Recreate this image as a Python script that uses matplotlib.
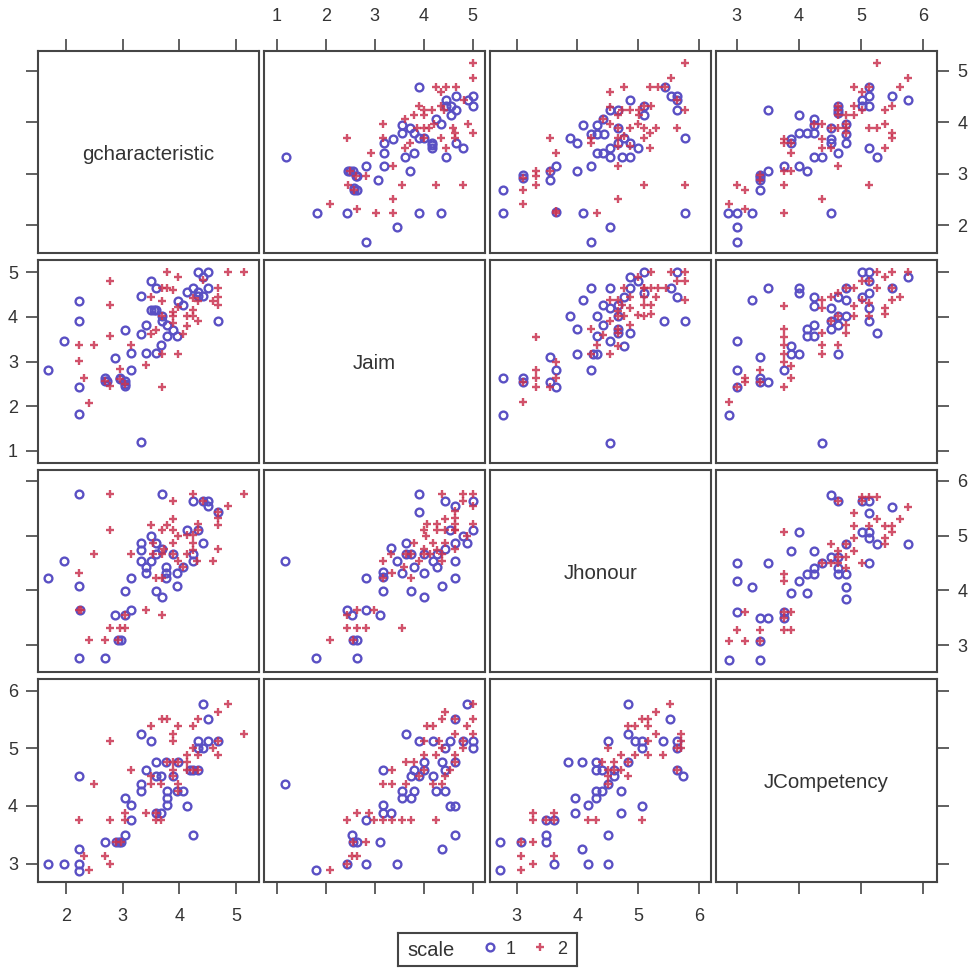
import numpy as np
import matplotlib
matplotlib.use("Agg")
import matplotlib.pyplot as plt

plt.rcParams['font.family'] = ['Liberation Sans', 'DejaVu Sans']

names = ['gcharacteristic', 'Jaim', 'Jhonour', 'JCompetency']
var_ticks = [[2, 3, 4, 5], [1, 2, 3, 4, 5], [3, 4, 5, 6], [3, 4, 5, 6]]
x_limits = [(1.51, 5.40), (0.74, 5.25), (2.56, 6.20), (2.67, 6.22)]
y_limits = [(1.46, 5.38), (0.73, 5.27), (2.51, 6.20), (2.68, 6.20)]

# pairs below are (x var, y var), scale 1 then scale 2
aim_char_1 = [(1.19, 3.32), (1.83, 2.23), (2.44, 2.23), (2.82, 1.68), (3.45, 1.96), (3.91, 2.23), (4.36, 2.23),
              (3.07, 2.87), (2.82, 3.14), (3.18, 3.14), (3.71, 3.05), (3.18, 3.41), (3.61, 3.32), (3.81, 3.41),
              (4.46, 3.32), (3.18, 3.59), (3.37, 3.68), (3.56, 3.78), (3.56, 3.95), (2.63, 2.69), (2.57, 2.69),
              (2.46, 3.05), (2.63, 2.96), (3.91, 4.68), (4.65, 4.51), (5.00, 4.51), (5.00, 4.32), (4.90, 4.42),
              (4.46, 4.42), (4.56, 4.32), (4.65, 4.24), (4.56, 4.14), (4.26, 4.06), (4.36, 3.97), (3.71, 3.88),
              (3.81, 3.78), (3.91, 3.69), (4.01, 3.69), (4.16, 3.59), (4.16, 3.50), (4.65, 3.59), (4.80, 3.50),
              (4.46, 4.32), (2.56, 3.05), (2.61, 2.96), (2.49, 3.05), (2.57, 2.72), (4.16, 3.55)]
aim_char_2 = [(5.00, 5.14), (5.00, 4.86), (4.26, 4.68), (4.45, 4.68), (4.65, 4.68), (4.35, 4.59), (3.91, 4.32),
              (4.01, 4.24), (4.16, 4.24), (3.80, 4.14), (3.61, 4.06), (4.01, 4.14), (4.35, 4.32), (4.42, 4.24),
              (4.83, 4.42), (4.90, 3.97), (5.00, 3.78), (3.17, 3.97), (2.44, 3.69), (3.17, 3.69), (3.87, 3.88),
              (4.01, 3.88), (4.11, 3.88), (4.21, 3.97), (4.59, 3.88), (4.64, 3.78), (4.64, 3.69), (4.36, 3.69),
              (4.45, 3.50), (3.71, 3.59), (3.61, 3.50), (2.92, 3.41), (3.37, 3.14), (2.83, 2.96), (2.46, 2.78),
              (2.57, 2.69), (3.56, 2.78), (4.26, 2.78), (4.80, 2.78), (3.37, 2.50), (2.08, 2.41), (2.63, 2.32),
              (3.02, 2.23), (3.37, 2.23), (2.61, 2.96), (2.49, 3.05), (4.01, 3.69)]

hon_char_1 = [(2.77, 2.69), (2.77, 2.23), (3.10, 2.97), (3.55, 2.87), (3.65, 3.14), (3.99, 3.05), (4.22, 3.14),
              (4.09, 2.23), (4.53, 1.96), (4.22, 1.68), (5.77, 2.23), (4.09, 3.95), (3.88, 3.69), (3.99, 3.59),
              (4.22, 3.77), (4.32, 3.77), (4.43, 3.77), (4.32, 3.95), (4.86, 4.42), (4.53, 4.24), (4.66, 4.24),
              (5.10, 4.14), (5.54, 4.51), (5.64, 4.51), (5.64, 4.24), (5.77, 3.69), (4.32, 3.41), (4.42, 3.41),
              (4.53, 3.50), (4.53, 3.32), (4.74, 3.32), (4.86, 3.32), (4.66, 3.59), (4.86, 3.59), (4.99, 3.50),
              (4.76, 3.69), (5.44, 4.68), (3.65, 2.25), (3.10, 2.91), (3.55, 3.05), (5.64, 4.42), (5.10, 4.32),
              (4.66, 3.88), (4.42, 4.06)]
hon_char_2 = [(5.77, 5.14), (5.54, 4.86), (4.53, 4.59), (4.76, 4.68), (5.19, 4.68), (5.32, 4.68), (5.44, 4.68),
              (5.10, 4.32), (5.21, 4.32), (4.74, 4.24), (4.86, 4.24), (5.01, 4.24), (5.77, 4.24), (4.66, 4.14),
              (5.01, 4.14), (4.99, 3.97), (4.53, 3.97), (4.66, 3.88), (4.86, 3.88), (5.10, 3.88), (5.30, 3.88),
              (5.20, 3.78), (5.64, 3.88), (5.10, 3.69), (5.19, 3.50), (4.66, 3.69), (4.22, 3.59), (4.22, 3.69),
              (4.42, 4.06), (4.53, 4.30), (3.55, 3.69), (3.65, 3.41), (3.31, 3.05), (3.31, 2.96), (3.31, 2.78),
              (3.10, 2.69), (3.10, 2.41), (3.55, 3.05), (3.10, 2.91), (4.66, 3.14), (5.10, 2.78), (5.77, 2.78),
              (4.66, 2.50), (4.32, 2.23), (3.65, 2.27), (3.65, 2.23), (5.64, 4.42), (4.66, 3.53), (4.86, 3.53),
              (4.76, 3.73)]

comp_char_1 = [(2.87, 2.23), (3.00, 2.23), (3.25, 2.23), (3.00, 1.96), (3.00, 1.68), (3.37, 2.69), (3.37, 2.94),
               (3.50, 3.05), (3.76, 3.14), (4.01, 3.14), (4.13, 3.05), (4.51, 2.23), (4.25, 3.32), (4.38, 3.32),
               (4.63, 3.41), (5.13, 3.50), (5.25, 3.32), (3.88, 3.68), (3.88, 3.59), (4.01, 3.78), (4.13, 3.78),
               (4.25, 3.78), (4.25, 4.06), (4.25, 3.95), (3.50, 4.24), (4.00, 4.14), (4.51, 3.68), (4.51, 3.59),
               (4.76, 3.97), (4.76, 3.77), (4.76, 3.59), (5.01, 4.32), (5.13, 4.51), (5.13, 4.32), (5.50, 4.51),
               (5.76, 4.42), (5.01, 4.42), (5.13, 4.68), (4.63, 4.32), (4.63, 4.24), (4.63, 4.18), (3.37, 2.97),
               (3.37, 2.88), (4.51, 3.88)]
comp_char_2 = [(2.88, 2.41), (3.00, 2.78), (3.13, 2.69), (3.13, 2.32), (3.76, 2.23), (3.76, 2.78), (3.76, 3.05),
               (3.88, 3.05), (3.37, 2.97), (3.37, 2.88), (3.88, 3.41), (3.76, 3.68), (3.76, 3.59), (3.88, 3.59),
               (4.38, 2.50), (4.63, 3.14), (5.13, 2.78), (4.38, 3.68), (4.38, 3.50), (4.51, 3.50), (4.25, 3.97),
               (4.38, 3.97), (4.51, 3.88), (4.63, 3.88), (4.76, 3.97), (4.76, 3.88), (4.76, 3.78), (4.76, 4.14),
               (4.89, 4.14), (4.89, 4.32), (4.89, 4.68), (5.01, 4.59), (5.13, 4.68), (4.63, 4.32), (4.63, 4.24),
               (4.63, 4.14), (5.01, 4.24), (5.13, 3.88), (5.25, 3.88), (5.38, 4.24), (5.38, 3.97), (5.50, 4.32),
               (5.50, 3.78), (5.50, 3.69), (5.38, 3.50), (5.25, 5.14), (5.76, 4.86), (5.63, 4.68)]

hon_aim_1 = [(2.77, 2.64), (3.10, 2.64), (2.77, 1.81), (4.53, 1.17), (3.55, 2.54), (3.65, 2.43), (3.65, 2.82),
             (3.55, 3.10), (3.99, 3.17), (4.22, 2.82), (4.33, 3.17), (4.53, 3.45), (4.77, 3.34), (4.86, 3.63),
             (5.43, 3.91), (5.77, 3.91), (3.99, 3.73), (3.88, 4.01), (4.32, 4.01), (4.42, 3.81), (4.32, 3.56),
             (4.09, 4.37), (4.22, 4.64), (4.53, 4.64), (4.86, 4.64), (4.86, 4.89), (5.10, 5.00), (4.99, 4.81),
             (4.42, 4.27), (4.53, 4.19), (4.76, 4.44), (5.10, 4.54), (5.54, 4.64), (5.64, 4.44), (5.64, 5.00),
             (4.66, 3.73), (4.66, 4.27), (3.10, 2.55), (4.25, 3.17), (4.66, 3.63), (4.66, 4.01)]
hon_aim_2 = [(3.31, 3.55), (3.10, 2.09), (3.31, 2.82), (3.31, 2.64), (3.31, 2.43), (3.10, 2.55), (3.65, 2.99),
             (3.65, 2.64), (3.55, 2.43), (4.32, 3.36), (4.53, 3.17), (4.22, 3.73), (4.22, 3.17), (4.66, 3.34),
             (4.42, 3.60), (4.53, 3.91), (4.66, 3.63), (4.66, 3.73), (4.86, 3.81), (4.66, 4.01), (4.76, 4.01),
             (4.66, 4.12), (4.74, 4.27), (4.86, 4.19), (4.53, 4.37), (4.66, 4.37), (4.86, 4.44), (4.76, 4.64),
             (4.99, 4.89), (5.21, 5.00), (5.10, 4.64), (5.21, 4.64), (5.32, 4.64), (5.46, 4.64), (5.30, 4.44),
             (5.10, 4.44), (5.10, 4.27), (5.21, 4.27), (5.21, 4.07), (4.99, 4.04), (5.10, 4.01), (5.77, 4.37),
             (5.54, 5.00), (5.77, 5.00), (5.77, 4.81), (5.64, 4.81), (5.10, 4.64)]

comp_aim_1 = [(2.88, 1.81), (4.38, 1.17), (3.00, 2.82), (3.00, 3.45), (3.25, 4.37), (3.50, 4.64), (3.37, 3.10),
              (3.37, 2.64), (3.50, 2.54), (3.76, 2.82), (3.88, 3.34), (3.88, 3.17), (4.01, 3.17), (4.13, 3.73),
              (4.13, 3.56), (4.25, 3.81), (4.25, 3.56), (4.00, 4.64), (4.00, 4.54), (4.25, 4.44), (4.25, 4.25),
              (4.51, 4.19), (4.51, 3.73), (4.63, 4.44), (4.76, 4.37), (4.63, 3.81), (4.76, 4.01), (5.01, 4.44),
              (5.13, 4.54), (5.01, 5.00), (5.13, 5.00), (5.76, 4.89), (5.25, 3.63), (5.13, 4.19), (5.13, 3.91),
              (4.63, 3.17), (3.00, 2.43), (4.76, 4.64), (5.50, 4.64), (4.51, 3.91), (4.63, 4.01), (5.13, 4.81),
              (3.37, 2.55)]
comp_aim_2 = [(2.88, 2.09), (3.00, 2.43), (3.13, 2.64), (3.13, 2.54), (3.37, 2.82), (3.37, 2.55), (3.76, 2.43),
              (3.76, 2.99), (3.76, 3.17), (3.76, 3.36), (3.76, 3.55), (3.76, 3.73), (3.76, 4.25), (3.88, 2.89),
              (3.88, 2.64), (4.38, 4.37), (4.38, 4.19), (4.38, 3.63), (4.38, 3.36), (4.38, 3.17), (4.51, 4.44),
              (4.63, 4.54), (4.63, 3.36), (4.76, 4.64), (4.89, 4.64), (4.76, 3.81), (4.76, 3.63), (4.89, 4.25),
              (4.89, 4.01), (5.01, 4.37), (5.13, 4.81), (5.01, 4.81), (5.25, 5.00), (5.38, 4.89), (5.50, 5.00),
              (5.76, 5.00), (5.25, 4.64), (5.50, 4.64), (5.50, 4.37), (5.63, 4.44), (5.38, 4.19), (5.38, 4.07),
              (5.13, 4.01), (5.13, 4.31), (4.51, 3.91), (4.63, 4.01)]

comp_hon_1 = [(2.88, 2.73), (3.37, 2.73), (3.00, 3.61), (3.37, 3.49), (3.50, 3.49), (3.00, 4.18), (3.00, 4.50),
              (3.25, 4.07), (3.50, 4.50), (3.88, 3.96), (4.13, 3.96), (3.88, 4.72), (4.00, 5.06), (4.01, 4.18),
              (4.13, 4.30), (4.25, 4.30), (4.25, 4.41), (4.25, 4.72), (4.51, 5.74), (4.51, 4.61), (4.63, 4.41),
              (4.63, 4.30), (4.76, 4.30), (4.76, 4.07), (4.76, 3.84), (5.01, 5.06), (5.13, 5.41), (5.13, 5.64),
              (5.01, 5.64), (5.13, 5.06), (5.13, 4.95), (5.25, 4.84), (5.50, 5.53), (5.76, 4.84), (5.13, 4.50),
              (3.37, 3.07), (3.76, 3.61), (3.76, 3.49), (4.63, 5.64), (4.76, 4.84), (4.38, 4.50), (4.63, 4.61)]
comp_hon_2 = [(2.88, 3.07), (3.13, 3.07), (3.37, 3.07), (3.00, 3.27), (3.37, 3.27), (3.76, 3.27), (3.88, 3.27),
              (3.76, 3.49), (3.76, 3.61), (3.88, 3.61), (3.13, 3.61), (3.76, 4.30), (3.76, 4.17), (3.76, 5.06),
              (4.38, 4.50), (4.51, 4.84), (4.51, 4.50), (4.63, 5.64), (4.76, 4.84), (4.63, 4.72), (4.76, 4.61),
              (4.89, 4.72), (4.63, 4.61), (4.63, 4.50), (4.76, 4.41), (4.89, 4.95), (4.89, 5.17), (4.89, 5.41),
              (5.01, 4.50), (5.01, 5.71), (5.13, 5.71), (5.25, 5.71), (5.25, 5.30), (5.13, 5.17), (5.38, 5.17),
              (5.50, 5.17), (5.50, 5.06), (5.38, 4.95), (5.38, 4.84), (5.63, 5.30), (5.76, 5.53), (5.01, 5.64)]

# (x index, y index) -> the two scale groups
pairs = {
    (1, 0): (aim_char_1, aim_char_2),
    (2, 0): (hon_char_1, hon_char_2),
    (3, 0): (comp_char_1, comp_char_2),
    (2, 1): (hon_aim_1, hon_aim_2),
    (3, 1): (comp_aim_1, comp_aim_2),
    (3, 2): (comp_hon_1, comp_hon_2),
}

W, H = 974, 974
col_px = [(38, 259), (264, 485), (490, 711), (716, 937)]
row_px = [(51, 253), (260, 463), (470, 672), (679, 882)]
frame = '#454545'
blue = '#5a50c4'
red = '#c93350'


def draw_groups(ax, xy1, xy2):
    xy1, xy2 = np.array(xy1), np.array(xy2)
    ax.plot(xy1[:, 0], xy1[:, 1], 'o', ms=5.6, mfc='none', mec=blue, mew=1.7, clip_on=False)
    ax.plot(xy2[:, 0], xy2[:, 1], '+', ms=5.2, color=red, mew=1.7, alpha=0.85, clip_on=False)


fig = plt.figure(figsize=(W / 100, H / 100), dpi=100)

for r in range(4):
    for c in range(4):
        l, ri = col_px[c]
        t, b = row_px[r]
        ax = fig.add_axes([l / W, 1 - b / H, (ri - l) / W, (b - t) / H])
        ax.set_xlim(x_limits[c])
        ax.set_ylim(y_limits[r])
        for s in ax.spines.values():
            s.set_color(frame)
            s.set_linewidth(1.5)
        ax.tick_params(length=8.5, width=1.2, color=frame, labelcolor='#333333', labelsize=13)
        ax.tick_params(axis='x', pad=10)
        ax.tick_params(axis='y', pad=6)

        # lattice style axes, labels alternate round the outside
        ax.set_xticks(var_ticks[c] if r in (0, 3) else [])
        ax.set_yticks(var_ticks[r] if c in (0, 3) else [])
        ax.tick_params(axis='x', top=(r == 0), bottom=(r == 3),
                       labeltop=(r == 0 and c % 2 == 1), labelbottom=(r == 3 and c % 2 == 0))
        ax.tick_params(axis='y', left=(c == 0), right=(c == 3),
                       labelleft=(c == 0 and r % 2 == 1), labelright=(c == 3 and r % 2 == 0))

        if r == c:
            ax.text(0.5, 0.49, names[r], transform=ax.transAxes, ha='center', va='center',
                    fontsize=14.8, color='#333333')
        elif c > r:
            draw_groups(ax, *pairs[(c, r)])
        else:
            xy1, xy2 = pairs[(r, c)]
            draw_groups(ax, [p[::-1] for p in xy1], [p[::-1] for p in xy2])

# legend box
leg = fig.add_axes([398 / W, 1 - 966 / H, 179 / W, 33 / H])
leg.set_xlim(398, 577)
leg.set_ylim(966, 933)
leg.set_xticks([])
leg.set_yticks([])
for s in leg.spines.values():
    s.set_color(frame)
    s.set_linewidth(1.5)
leg.text(407, 950, 'scale', va='center', ha='left', fontsize=14.5, color='#333333')
leg.plot([490], [947], 'o', ms=5.6, mfc='none', mec=blue, mew=1.7)
leg.text(511, 949, '1', va='center', ha='center', fontsize=13, color='#333333')
leg.plot([540], [947], '+', ms=5.2, color=red, mew=1.7, alpha=0.85)
leg.text(562, 949, '2', va='center', ha='center', fontsize=13, color='#333333')

fig.savefig('out.png', dpi=100)
